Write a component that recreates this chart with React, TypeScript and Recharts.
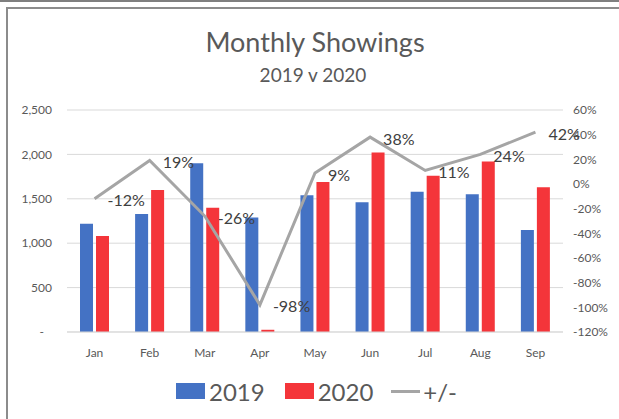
import React from 'react';
import { ComposedChart, Bar, Line, XAxis, YAxis, CartesianGrid, Legend, LabelList } from 'recharts';

const months = ['Jan', 'Feb', 'Mar', 'Apr', 'May', 'Jun', 'Jul', 'Aug', 'Sep'];
const showings2019 = [1220, 1330, 1900, 1290, 1540, 1460, 1580, 1550, 1150];
const showings2020 = [1080, 1600, 1400, 25, 1690, 2020, 1760, 1920, 1630];
const change = [-0.12, 0.19, -0.26, -0.98, 0.09, 0.38, 0.11, 0.24, 0.42];
const leftTicks = [0, 500, 1000, 1500, 2000, 2500];
const rightTicks = [-1.2, -1.0, -0.8, -0.6, -0.4, -0.2, 0, 0.2, 0.4, 0.6];

const data = months.map((m, i) => ({
  month: m,
  y2019: showings2019[i],
  y2020: showings2020[i],
  diff: change[i],
}));

const FONT = 'Lato, "Open Sans", sans-serif';
const TEXT = '#595959';
const BLUE = '#4472C4';
const RED = '#F4353A';
const GRAY = '#A5A5A5';

const LeftTick = (props: any) => {
  const { x, y, payload } = props;
  const v = payload.value as number;
  const label = v === 0 ? '-' : v.toLocaleString('en-US');
  return (
    <text x={v === 0 ? x - 8 : x} y={y} dy="0.35em" textAnchor="end" fill={TEXT} fontSize={12} fontFamily={FONT}>
      {label}
    </text>
  );
};

const PctLabel = (props: any) => {
  const { x, y, value } = props;
  return (
    <text x={x + 13} y={y + 2} dy="0.35em" textAnchor="start" fill="#404040" fontSize={16} fontFamily={FONT}>
      {Math.round(value * 100) + '%'}
    </text>
  );
};

const LegendContent = () => (
  <div style={{ height: 40, display: 'flex', justifyContent: 'center', alignItems: 'center', fontFamily: FONT, fontSize: 24, color: TEXT, paddingLeft: 14, boxSizing: 'border-box' }}>
    <span style={{ display: 'inline-block', width: 29, height: 16, background: BLUE, marginRight: 4 }} />
    <span style={{ marginRight: 20 }}>2019</span>
    <span style={{ display: 'inline-block', width: 29, height: 16, background: RED, marginRight: 4 }} />
    <span style={{ marginRight: 18 }}>2020</span>
    <span style={{ display: 'inline-block', width: 29, height: 3, background: GRAY, marginRight: 3 }} />
    <span>+/-</span>
  </div>
);

export default function App() {
  return (
    <div style={{ position: 'absolute', left: 0, top: 0, width: 619, height: 419, background: '#fff', overflow: 'hidden' }}>
      <div style={{ position: 'absolute', left: 0, top: 0, width: 619, height: 2, background: '#7f7f7f' }} />
      <div style={{ position: 'absolute', left: 6, top: 7, width: 613, height: 2, background: '#8c8c8c' }} />
      <div style={{ position: 'absolute', left: 6, top: 7, width: 2, height: 412, background: '#8c8c8c' }} />
      <div style={{ position: 'absolute', left: 0, top: 25, width: 630, textAlign: 'center', fontFamily: FONT, fontSize: 27, fontWeight: 400, color: TEXT, lineHeight: '34px' }}>
        Monthly Showings
      </div>
      <div style={{ position: 'absolute', left: 0, top: 62, width: 626, textAlign: 'center', fontFamily: FONT, fontSize: 19, fontWeight: 400, color: TEXT, lineHeight: '26px' }}>
        2019 v 2020
      </div>
      <div style={{ position: 'absolute', left: 0, top: 0 }}>
        <ComposedChart
          width={619}
          height={419}
          data={data}
          margin={{ top: 110, right: 0, bottom: 17, left: 0 }}
          barGap={3}
        >
          <CartesianGrid yAxisId="left" vertical={false} stroke="#D9D9D9" strokeWidth={1} />
          <XAxis
            dataKey="month"
            height={30}
            tickLine={false}
            axisLine={{ stroke: '#D9D9D9' }}
            tickSize={0}
            tickMargin={16}
            tick={{ fill: TEXT, fontSize: 12, fontFamily: FONT }}
          />
          <YAxis
            yAxisId="left"
            orientation="left"
            width={67}
            domain={[0, 2500]}
            ticks={leftTicks}
            axisLine={false}
            tickLine={false}
            tickSize={0}
            tickMargin={15}
            tick={<LeftTick />}
            interval={0}
          />
          <YAxis
            yAxisId="right"
            orientation="right"
            width={56}
            domain={[-1.2, 0.6]}
            ticks={rightTicks}
            axisLine={false}
            tickLine={false}
            tickSize={0}
            tickMargin={10}
            interval={0}
            tickFormatter={(v: number) => Math.round(v * 100) + '%'}
            tick={{ fill: TEXT, fontSize: 12, fontFamily: FONT }}
          />
          <Legend
            verticalAlign="bottom"
            content={<LegendContent />}
            wrapperStyle={{ top: 371, bottom: 'auto', left: 0, width: 619, height: 40 }}
          />
          <Bar yAxisId="left" dataKey="y2019" name="2019" fill={BLUE} barSize={13} isAnimationActive={false} />
          <Bar yAxisId="left" dataKey="y2020" name="2020" fill={RED} barSize={13} isAnimationActive={false} />
          <Line
            yAxisId="right"
            dataKey="diff"
            name="+/-"
            stroke={GRAY}
            strokeWidth={3}
            dot={false}
            type="linear"
            isAnimationActive={false}
          >
            <LabelList dataKey="diff" content={<PctLabel />} />
          </Line>
        </ComposedChart>
      </div>
    </div>
  );
}
